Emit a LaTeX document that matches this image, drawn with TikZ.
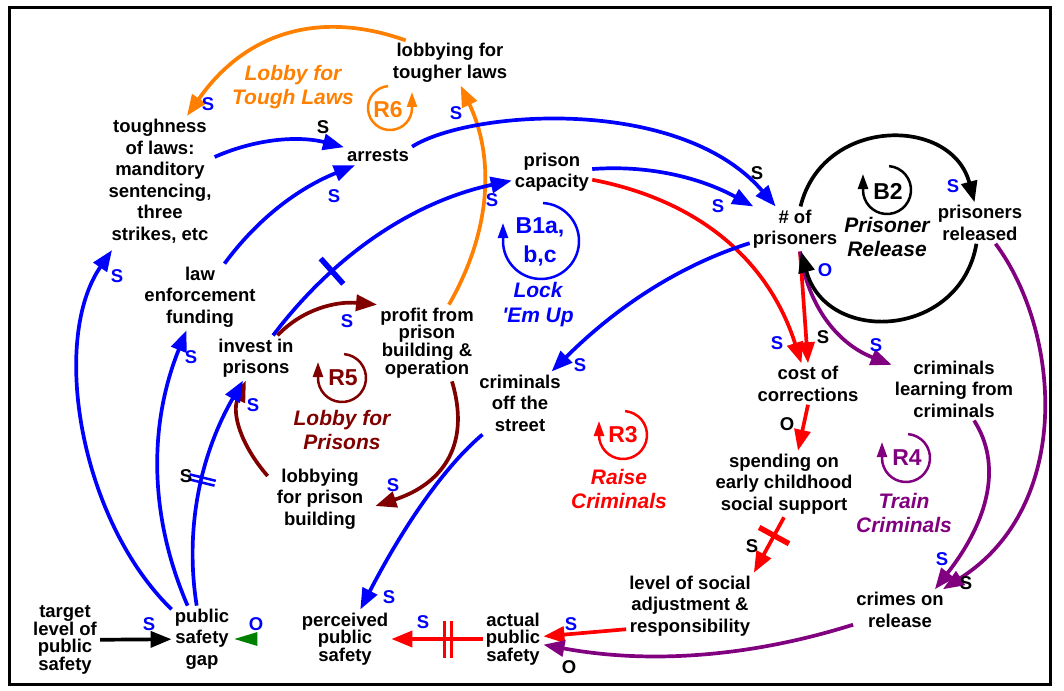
\documentclass[tikz,border=0pt]{standalone}
\usepackage{fontspec}
\setmainfont{Liberation Sans}
\usetikzlibrary{arrows.meta,calc,decorations.markings}

\definecolor{cBlue}{RGB}{0,0,255}
\definecolor{cOrange}{RGB}{255,128,0}
\definecolor{cMaroon}{RGB}{128,0,0}
\definecolor{cRed}{RGB}{255,0,0}
\definecolor{cPurple}{RGB}{128,0,128}
\definecolor{cGreen}{RGB}{0,128,0}

\begin{document}
\begin{tikzpicture}[x=1pt,y=-1pt,
  var/.style={font=\bfseries\fontsize{18.5}{21.5}\selectfont, align=center, inner sep=3pt},
  tight/.style={font=\bfseries\fontsize{18.5}{17.7}\selectfont},
  pol/.style={font=\bfseries\fontsize{18.5}{18}\selectfont, inner sep=0pt},
  loopname/.style={font=\bfseries\itshape\fontsize{21}{24}\selectfont, align=center, inner sep=0pt},
  loopid/.style={font=\bfseries\fontsize{23}{29}\selectfont, align=center, inner sep=0pt},
  link/.style={line width=3.7pt, -{Triangle[length=21pt,width=16pt]}},
  loopring/.style={line width=2.5pt, -{Triangle[length=15pt,width=10pt]}},
  onebar/.style n args={3}{postaction={decorate, decoration={markings,
      mark=at position #1 with {\draw[#2, line width=5.5pt, -] (0,-#3) -- (0,#3);}}}},
  twobar/.style n args={4}{postaction={decorate, decoration={markings,
      mark=at position #1 with {\draw[#2, line width=2.5pt, -] (-#4,-#3) -- (-#4,#3) (#4,-#3) -- (#4,#3);}}}},
]
\useasboundingbox (0,0) rectangle (1064,690);
\draw[line width=3pt] (9,8) rectangle (1050,684);

% ---------- variables ----------
\node[var] (tough) at (160,181) {toughness\\of laws:\\manditory\\sentencing,\\three\\strikes, etc};
\node[var] (arrests) at (378,156) {arrests};
\node[var] (lobT) at (450,63) {lobbying for\\tougher laws};
\node[var] (cap) at (552,172) {prison\\capacity};
\node[var] (pris) at (795,229) {\# of\\prisoners};
\node[var] (rel) at (980,223) {prisoners\\released};
\node[var] (law) at (200,297) {law\\enforcement\\funding};
\node[var] (invest) at (256,358) {invest in\\prisons};
\node[var,tight] (profit) at (427,343) {profit from\\prison\\building \&\\operation};
\node[var] (offs) at (520,403) {criminals\\off the\\street};
\node[var] (lobp) at (320,499) {lobbying\\for prison\\building};
\node[var] (cost) at (808,384) {cost of\\corrections};
\node[var] (learn) at (954,389) {criminals\\learning from\\criminals};
\node[var] (spend) at (784,484) {spending on\\early childhood\\social support};
\node[var] (level) at (690,606) {level of social\\adjustment \&\\responsibility};
\node[var] (crimes) at (900,610) {crimes on\\release};
\node[var,tight] (actual) at (513,639) {actual\\public\\safety};
\node[var,tight] (perc) at (345,639) {perceived\\public\\safety};
\node[var] (gap) at (202,639) {public\\safety\\gap};
\node[var,tight] (target) at (65,640) {target\\level of\\public\\safety};

% ---------- causal links ----------
\draw[link, cOrange] ([xshift=16pt]lobT.north west) .. controls (317.7,9) and (244.3,33.7) .. ([xshift=27pt]tough.north);
\draw[link, cOrange] (profit) .. controls (491,231.3) and (495,158.3) .. (lobT);

\draw[link, cBlue] (tough) .. controls (258.3,137.7) and (300.7,136) .. (arrests);
\draw[link, cBlue] (law) .. controls (257.3,219) and (298,188.3) .. (arrests);
\draw[link, cBlue] (arrests.north east) .. controls (470,110) and (680,95) .. (pris);
\draw[link, cBlue] (cap) .. controls (647,165) and (698.3,176.7) .. (pris);
\draw[link, cRed] (cap) .. controls (700.7,200.7) and (769,261.7) .. (cost);
\draw[link, cRed] ([xshift=5pt]pris.south) -- (cost.north);
\draw[link, cBlue] (pris) .. controls (682.3,264.3) and (618.7,304.7) .. (offs);
\draw[link, cBlue, onebar={0.3}{cBlue}{17}] (invest) .. controls (336,252.3) and (416,201) .. (cap);

\draw[link, cMaroon] (invest) .. controls (302.3,309.3) and (335.7,301) .. (profit.north west);
\draw[link, cMaroon] ([xshift=-25pt]profit.south east) .. controls (470.3,442.3) and (445.3,483) .. ([xshift=9pt,yshift=-7pt]lobp.east);
\draw[link, cMaroon] ([xshift=-6pt,yshift=23pt]lobp.west) .. controls (239.7,443.7) and (231.7,412.3) .. (invest);

\draw[link, cBlue] (gap) .. controls (80,520) and (50,340) .. ([xshift=-48pt,yshift=-4pt]tough.south);
\draw[link, cBlue] (gap) .. controls (149,516.3) and (148.3,425) .. (law);
\draw[link, cBlue, twobar={0.54}{cBlue}{13.5}{2.5}] (gap) .. controls (184.7,530.3) and (199.7,455.7) .. (invest);
\draw[link, black] (target) -- (gap);
\fill[cGreen] ([xshift=2pt]gap.east) -- ++(23,-7) -- ++(0,14) -- cycle;

\draw[link, cBlue] (offs) .. controls (445,466) and (404.3,524.7) .. (perc);
\draw[link, cRed, twobar={0.38}{cRed}{18.5}{3.5}] (actual) -- (perc);
\draw[link, cRed] (level.200) -- (actual);
\draw[link, cPurple] (crimes) .. controls (750.3,657) and (649,664.3) .. (actual);
\draw[link, cRed] (cost.south) -- ([xshift=14pt]spend.north);
\draw[link, cRed, onebar={0.33}{cRed}{17}] (spend.south) -- (level.north east);

\draw[link, cPurple] ([xshift=5pt]pris.south) .. controls (807.7,306) and (837.3,343.7) .. (learn);
\draw[link, cPurple] (learn) .. controls (1002,464.3) and (989.7,519) .. ([xshift=-12pt]crimes.north east);
\draw[link, cPurple] (rel) .. controls (1060,330) and (1075,505) .. ([xshift=-4pt]crimes.north east);
\draw[link, black] (pris) .. controls (822.6,116.5) and (951.5,115.5) .. (rel);
\draw[link, black] (rel) .. controls (960,339) and (826.4,345.4) .. (pris);

% ---------- link polarities ----------
\node[pol, cBlue] (p1) at (208,104) {S};
\node[pol] (p2) at (323,127) {S};
\node[pol, cBlue] (p3) at (334,196) {S};
\node[pol, cBlue] (p4) at (456,113) {S};
\node[pol] (p5) at (757,173) {S};
\node[pol, cBlue] (p6) at (718,206) {S};
\node[pol, cBlue] (p7) at (953,186) {S};
\node[pol, cBlue] (p8) at (825,270) {O};
\node[pol, cBlue] (p9) at (492,200) {S};
\node[pol, cBlue] (p10) at (347,321) {S};
\node[pol, cBlue] (p11) at (117,276) {S};
\node[pol, cBlue] (p12) at (191,357) {S};
\node[pol, cBlue] (p13) at (253,405) {S};
\node[pol] (p14) at (186,476) {S};
\node[pol, cBlue] (p15) at (393,485) {S};
\node[pol, cBlue] (p16) at (580,365) {S};
\node[pol, cBlue] (p17) at (777,343) {S};
\node[pol] (p18) at (823,337) {S};
\node[pol, cBlue] (p19) at (876,345) {S};
\node[pol] (p20) at (787,424) {O};
\node[pol] (p21) at (752,546) {S};
\node[pol, cBlue] (p22) at (942,559) {S};
\node[pol] (p23) at (966,583) {S};
\node[pol, cBlue] (p24) at (389,597) {S};
\node[pol, cBlue] (p25) at (423,622) {S};
\node[pol, cBlue] (p26) at (571,624) {S};
\node[pol] (p27) at (569,667) {O};
\node[pol, cBlue] (p28) at (149,624) {S};
\node[pol, cBlue] (p29) at (256,624) {O};

% ---------- loop markers ----------
\draw[loopring, cOrange] (390,108) ++(-95:22) arc[start angle=-95, end angle=-360, radius=22] -- ++(0,-16);
\draw[loopring, cMaroon] (342,378) ++(-85:24) arc[start angle=-85, end angle=180, radius=24] -- ++(0,-16);
\draw[loopring, cBlue] (541,241) ++(-87:38) arc[start angle=-87, end angle=180, radius=38] -- ++(0,-18);
\draw[loopring, cRed] (623,435) ++(-85:24) arc[start angle=-85, end angle=180, radius=24] -- ++(0,-14);
\draw[loopring, cPurple] (906,458) ++(-85:24) arc[start angle=-85, end angle=180, radius=24] -- ++(0,-16);
\draw[loopring, black] (887,190) ++(-85:24) arc[start angle=-85, end angle=180, radius=24] -- ++(0,-16);

\node[loopid, cOrange] (iR6) at (388,110) {R6};
\node[loopid, cMaroon] (iR5) at (343,378) {R5};
\node[loopid, cBlue] (iB1) at (540,242) {B1a,\\b,c};
\node[loopid, cRed] (iR3) at (623,435) {R3};
\node[loopid, cPurple] (iR4) at (907,458) {R4};
\node[loopid] (iB2) at (888,191) {B2};

\node[loopname, cOrange] (nR6) at (293,87) {Lobby for\\Tough Laws};
\node[loopname, cMaroon] (nR5) at (342,430) {Lobby for\\Prisons};
\node[loopname, cBlue, font=\bfseries\itshape\fontsize{21}{25}\selectfont] (nB1) at (538,305) {Lock\\\textquotesingle Em Up};
\node[loopname, cRed] (nR3) at (619,489) {Raise\\Criminals};
\node[loopname, cPurple] (nR4) at (904,513) {Train\\Criminals};
\node[loopname] (nB2) at (887,237) {Prisoner\\Release};
\end{tikzpicture}
\end{document}
